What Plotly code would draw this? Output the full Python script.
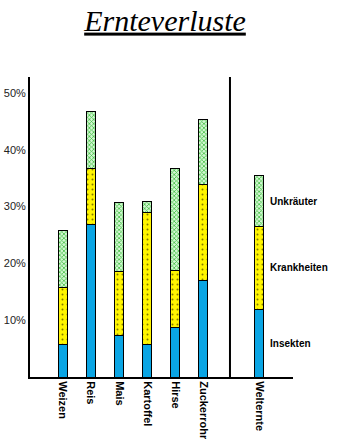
import plotly.graph_objects as go

categories = ["Weizen", "Reis", "Mais", "Kartoffel", "Hirse", "Zuckerrohr", " ", "Welternte"]
insekten = [5.8, 26.8, 7.3, 5.8, 8.7, 17.0, None, 11.9]
krankheiten = [10.0, 9.9, 11.3, 23.1, 10.1, 16.9, None, 14.6]
unkraeuter = [10.0, 10.1, 12.1, 2.0, 17.9, 11.5, None, 8.9]
series_names = ["Insekten", "Krankheiten", "Unkräuter"]
tick_vals = [10, 20, 30, 40, 50]
tick_text = ["10%", "20%", "30%", "40%", "50%"]

fig = go.Figure()
fig.add_bar(x=categories, y=insekten, name=series_names[0],
            marker=dict(color="#0AA5E4", line=dict(color="black", width=1)))
fig.add_bar(x=categories, y=krankheiten, name=series_names[1],
            marker=dict(color="#FFF500", line=dict(color="black", width=1),
                        pattern=dict(shape=".", fgcolor="black", bgcolor="#FFF500",
                                     size=5, solidity=0.12, fillmode="overlay")))
fig.add_bar(x=categories, y=unkraeuter, name=series_names[2],
            marker=dict(color="#8FDC8F", line=dict(color="black", width=1),
                        pattern=dict(shape="x", fgcolor="#45C045", bgcolor="#D2F7D2",
                                     size=3, solidity=0.45, fillmode="replace")))

# legend labels at segment midpoints of the last bar
last = len(categories) - 1
b0 = insekten[last]
b1 = b0 + krankheiten[last]
b2 = b1 + unkraeuter[last]
for name, ymid in zip(series_names, [b0 / 2, (b0 + b1) / 2, (b1 + b2) / 2]):
    fig.add_annotation(x=categories[last], y=ymid, text=name, showarrow=False,
                       xanchor="left", xshift=9,
                       font=dict(family="Liberation Sans", size=10, color="black", weight="bold"))

# divider line before world harvest
fig.add_shape(type="line", xref="x", yref="y", x0=5.96, x1=5.96, y0=0, y1=52.8,
              line=dict(color="black", width=2))

fig.update_layout(
    width=352, height=447,
    margin=dict(l=30, r=59, t=77, b=70),
    barmode="stack", bargap=0.68,
    showlegend=False,
    plot_bgcolor="white", paper_bgcolor="white",
    title=dict(text="<u>Ernteverluste</u>", x=165 / 352, xanchor="center",
               y=0.955, yanchor="middle",
               font=dict(family="Liberation Serif", size=30, style="italic", color="black")),
    xaxis=dict(type="category", categoryorder="array", categoryarray=categories,
               range=[-1.18, 8.21], tickangle=90, showgrid=False, automargin=False,
               showline=True, linecolor="black", linewidth=2, ticks="",
               tickfont=dict(family="Liberation Sans", size=11, color="black", weight="bold")),
    yaxis=dict(range=[0, 52.8], tickvals=tick_vals, ticktext=tick_text, showgrid=False,
               automargin=False,
               zeroline=False, showline=True, linecolor="black", linewidth=2, ticks="",
               tickfont=dict(family="Liberation Sans", size=11, color="#222")),
)

fig.write_html("out.html")
